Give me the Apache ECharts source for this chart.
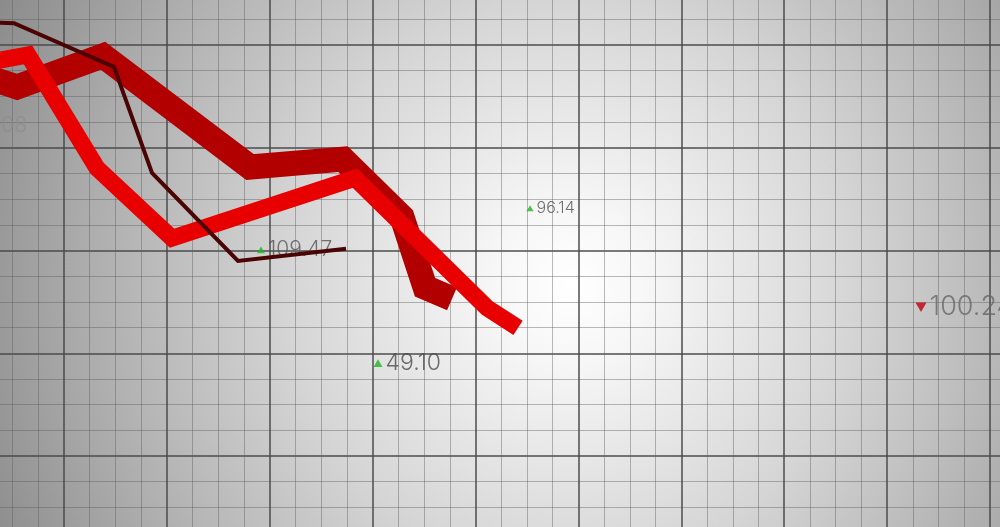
<!DOCTYPE html>
<html><head><meta charset="utf-8">
<script src="https://cdn.jsdelivr.net/npm/echarts@6/dist/echarts.min.js"></script>
<style>html,body{margin:0;padding:0;background:#ccc}#c{width:1000px;height:527px}</style>
</head><body><div id="c"></div>
<script>
// Turning points of each line: time index (x) and price level (y)
const darkBandX   = [-2, 1.7, 10.3, 25.0, 34.3, 40.2, 42.5, 45.2];
const darkBandY   = [85.8, 83.5, 89.4, 68.3, 69.8, 58.8, 45.5, 43.3];
const brightBandX = [-2, 2.8, 9.7, 17.2, 35.5, 48.7, 51.8];
const brightBandY = [87.9, 89.6, 68.1, 54.8, 66.2, 41.6, 37.8];
const thinLineX   = [-2, 1.4, 11.4, 15.2, 23.8, 34.6];
const thinLineY   = [95.8, 95.6, 87.3, 67.2, 50.5, 52.8];

// Floating quotes
const quoteText = ['96.14', '49.10', '109.47', '100.24', '101.08'];
const quoteX    = [53.0, 37.8, 26.1, 92.1, 3.0];
const quoteY    = [60.5, 31.1, 52.6, 41.7, 76.1];
const quoteDir  = ['up', 'up', 'up', 'down', 'none'];

// presentation of the quotes (kept apart from the values)
const quoteFont  = [16, 23, 21, 27, 21];
const quoteMark  = [7, 9, 8, 11, 0];
const quoteColor = ['#4d4d4d', '#4a4a4a', '#555555', '#666666', '#8c8c8c'];

const zip = (xs, ys) => xs.map((x, i) => [x, ys[i]]);

const chart = echarts.init(document.getElementById('c'), null, {renderer: 'canvas'});

const quoteData = quoteText.map((t, i) => ({
  value: [quoteX[i], quoteY[i]],
  name: t,
  symbol: 'triangle',
  symbolSize: quoteMark[i] ? [quoteMark[i], quoteMark[i] * 0.85] : 0.01,
  symbolRotate: quoteDir[i] === 'down' ? 180 : 0,
  itemStyle: {color: quoteDir[i] === 'down' ? '#c2000c' : (quoteDir[i] === 'up' ? '#1db81d' : 'rgba(0,0,0,0)')},
  label: {
    show: true,
    formatter: t,
    position: quoteDir[i] === 'none' ? 'left' : 'right',
    distance: 3,
    fontSize: quoteFont[i],
    color: quoteColor[i],
    fontFamily: 'Inter',
    fontWeight: 300
  }
}));

const band = (data, width, color) => ({
  type: 'line',
  xAxisIndex: 1, yAxisIndex: 1,
  data: data,
  symbol: 'none',
  silent: true,
  lineStyle: {width: width, color: color, join: 'miter', miterLimit: 6, cap: 'butt'}
});

const majorLine = {show: true, lineStyle: {color: 'rgba(70,70,70,0.72)', width: 2}};
const minorLine = {show: true, lineStyle: {color: 'rgba(90,90,90,0.42)', width: 1}};

chart.setOption({
  animation: false,
  backgroundColor: new echarts.graphic.RadialGradient(0.57, 0.54, 1.2, [
    {offset: 0, color: '#ffffff'},
    {offset: 0.12, color: '#f7f7f7'},
    {offset: 0.45, color: '#d5d5d5'},
    {offset: 0.75, color: '#afafaf'},
    {offset: 1, color: '#8c8c8c'}
  ]),
  grid: [
    {left: -39, right: -195.8, top: -57.75, bottom: -134.5, outerBoundsMode: 'none', containLabel: false},
    {left: -20, right: 0, top: 0, bottom: 0, outerBoundsMode: 'none', containLabel: false}
  ],
  xAxis: [
    {type: 'value', gridIndex: 0, min: 0, max: 12, interval: 1,
     axisLine: {show: false}, axisTick: {show: false}, axisLabel: {show: false},
     splitLine: majorLine, minorTick: {show: false, splitNumber: 4}, minorSplitLine: minorLine},
    {type: 'value', gridIndex: 1, min: -2, max: 100, show: false}
  ],
  yAxis: [
    {type: 'value', gridIndex: 0, min: 0, max: 7, interval: 1,
     axisLine: {show: false}, axisTick: {show: false}, axisLabel: {show: false},
     splitLine: majorLine, minorTick: {show: false, splitNumber: 4}, minorSplitLine: minorLine},
    {type: 'value', gridIndex: 1, min: 0, max: 100, show: false}
  ],
  series: [
    {type: 'scatter', xAxisIndex: 1, yAxisIndex: 1, data: quoteData, silent: true},
    band(zip(darkBandX, darkBandY), 25, '#b20000'),
    band(zip(brightBandX, brightBandY), 17, '#e80000'),
    band(zip(thinLineX, thinLineY), 4, '#4a0404')
  ]
});
</script>
</body></html>
